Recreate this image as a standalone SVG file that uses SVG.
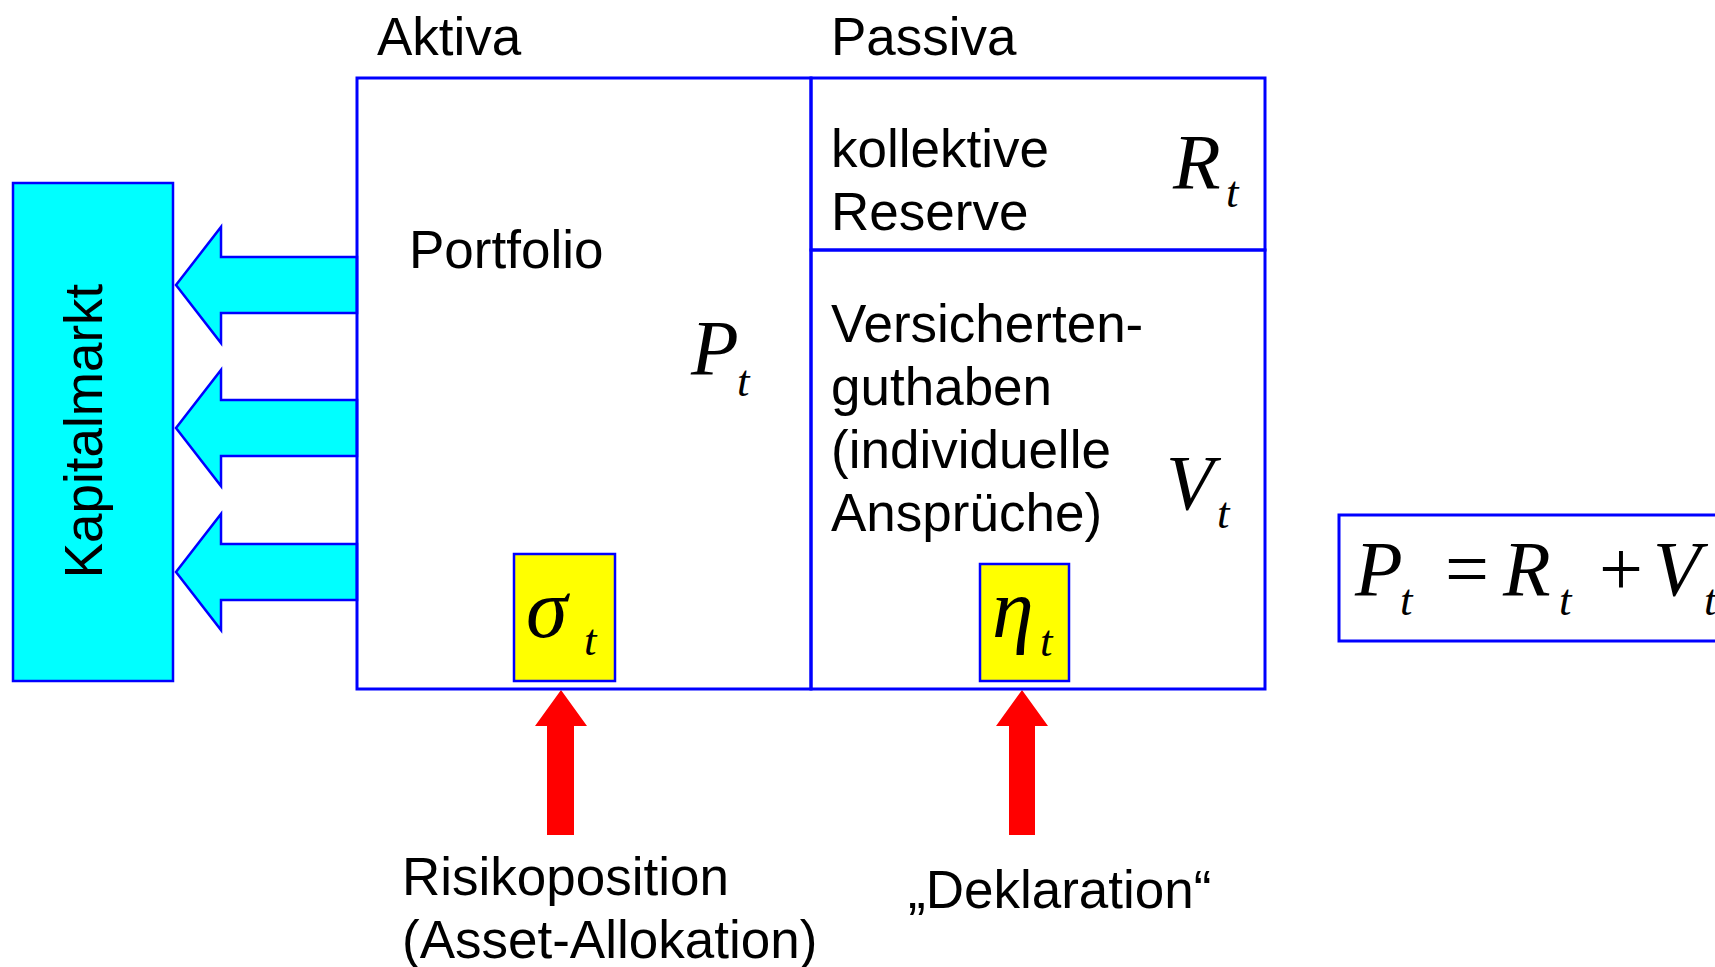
<svg xmlns="http://www.w3.org/2000/svg" width="1715" height="967" viewBox="0 0 1715 967">
  <style>
    .lbl { font-family: "Liberation Sans", Arial, sans-serif; font-size: 53px; fill: #000; }
    .math { font-family: "Liberation Serif", "Times New Roman", serif; font-style: italic; font-size: 78px; fill: #000; }
    .greek { font-family: "Liberation Serif", "Times New Roman", serif; font-style: italic; font-size: 84px; fill: #000; }
    .sub { font-family: "Liberation Serif", "Times New Roman", serif; font-style: italic; font-size: 45px; fill: #000; }
    .frame { fill: none; stroke: #0000FF; stroke-width: 3; }
    .flow { fill: #00FFFF; stroke: #0000FF; stroke-width: 2.5; stroke-linejoin: miter; }
    .ctrl { fill: #FF0000; }
    .param { fill: #FFFF00; stroke: #0000FF; stroke-width: 2.5; }
  </style>

  <rect width="1715" height="967" fill="#FFFFFF"/>

  <!-- Capital market -->
  <g id="kapitalmarkt">
    <rect x="13" y="183" width="160" height="498" fill="#00FFFF" stroke="#0000FF" stroke-width="2.5"/>
    <text class="lbl" transform="translate(102,431) rotate(-90)" text-anchor="middle">Kapitalmarkt</text>
  </g>

  <!-- Connectors: flows to the capital market and control inputs -->
  <g id="connectors">
    <polygon class="flow" points="176,285 221,227 221,257 357,257 357,313 221,313 221,343"/>
    <polygon class="flow" points="176,428 221,370 221,400 357,400 357,456 221,456 221,486"/>
    <polygon class="flow" points="176,572 221,514 221,544 357,544 357,600 221,600 221,630"/>
    <polygon class="ctrl" points="561,690 587,726 574,726 574,835 547,835 547,726 535,726"/>
    <polygon class="ctrl" points="1022,690 1048,726 1035,726 1035,835 1009,835 1009,726 996,726"/>
  </g>

  <!-- Column headings -->
  <g id="headings">
    <text class="lbl" x="377" y="55">Aktiva</text>
    <text class="lbl" x="831" y="55">Passiva</text>
  </g>

  <!-- Assets side: portfolio -->
  <g id="aktiva">
    <rect class="frame" x="357" y="78" width="454" height="611"/>
    <text class="lbl" x="409" y="268">Portfolio</text>
    <text class="math" x="691" y="374">P</text>
    <text class="sub" x="737" y="396">t</text>
  </g>

  <!-- Liabilities side: collective reserve -->
  <g id="reserve">
    <rect class="frame" x="811" y="78" width="454" height="172"/>
    <text class="lbl" x="831" y="167">kollektive</text>
    <text class="lbl" x="831" y="230">Reserve</text>
    <text class="math" x="1173" y="188">R</text>
    <text class="sub" x="1226" y="207">t</text>
  </g>

  <!-- Liabilities side: policyholder accounts -->
  <g id="guthaben">
    <rect class="frame" x="811" y="250" width="454" height="439"/>
    <text class="lbl" x="831" y="342">Versicherten-</text>
    <text class="lbl" x="831" y="405">guthaben</text>
    <text class="lbl" x="831" y="468">(individuelle</text>
    <text class="lbl" x="831" y="531">Ansprüche)</text>
    <text class="math" x="1166" y="509">V</text>
    <text class="sub" x="1217" y="528">t</text>
  </g>

  <!-- Control parameters -->
  <g id="sigma">
    <rect class="param" x="514" y="554" width="101" height="127"/>
    <text class="greek" x="526" y="637">σ</text>
    <text class="sub" x="584" y="655">t</text>
  </g>
  <g id="eta">
    <rect class="param" x="980" y="564" width="89" height="117"/>
    <text class="greek" x="992" y="637">η</text>
    <text class="sub" x="1040" y="656">t</text>
  </g>

  <!-- Control labels -->
  <g id="risikoposition">
    <text class="lbl" x="402" y="895">Risikoposition</text>
    <text class="lbl" x="402" y="958">(Asset-Allokation)</text>
  </g>
  <g id="deklaration">
    <text class="lbl" x="908" y="908">„Deklaration“</text>
  </g>

  <!-- Balance identity -->
  <g id="bilanzgleichung">
    <rect class="frame" x="1339" y="515" width="400" height="126"/>
    <text class="math" x="1355" y="595">P</text>
    <text class="sub" x="1400" y="615">t</text>
    <text class="math" x="1440" y="595" font-style="normal">=</text>
    <text class="math" x="1503" y="595">R</text>
    <text class="sub" x="1559" y="615">t</text>
    <text class="math" x="1594" y="595" font-style="normal">+</text>
    <text class="math" x="1653" y="595">V</text>
    <text class="sub" x="1704" y="615">t</text>
  </g>
</svg>
